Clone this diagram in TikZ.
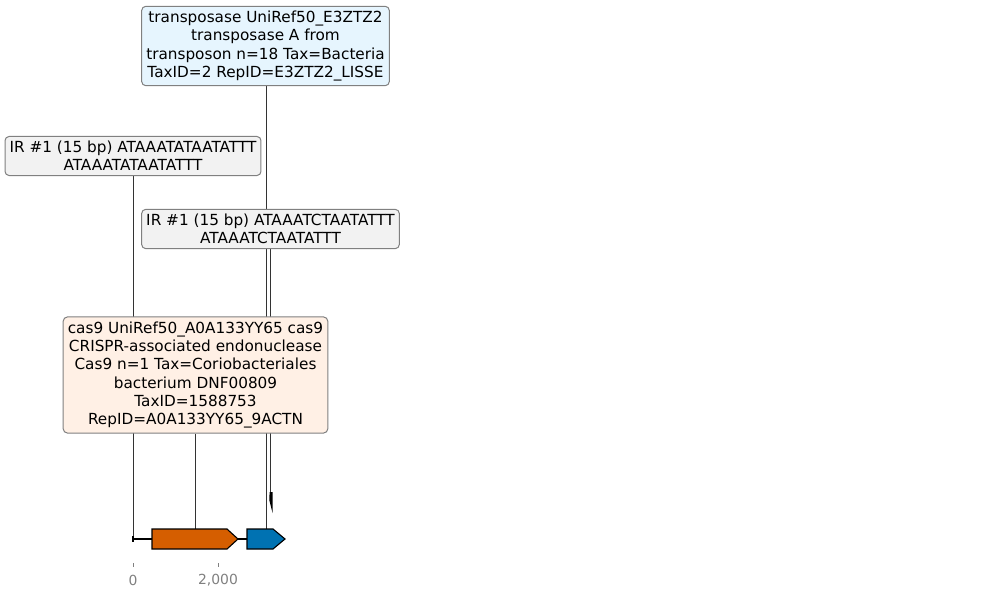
\documentclass[tikz,border=0pt]{standalone}
\usepackage{fontspec}
\setmainfont{DejaVu Sans}
\usetikzlibrary{backgrounds}
\definecolor{casorange}{HTML}{D55E00}
\definecolor{tnpblue}{HTML}{0072B2}
\definecolor{casfill}{HTML}{FFF0E5}
\definecolor{tnpfill}{HTML}{E6F5FE}
\definecolor{irfill}{HTML}{F2F2F2}
\tikzset{
  annot/.style={draw=black!50, line width=0.72pt, rounded corners=3pt, align=center, inner xsep=3.3pt, inner ysep=3.3pt,
    font=\fontsize{11}{13.2}\selectfont},
  leader/.style={black!80, line width=0.55pt},
  gene/.style={draw=black, line width=0.8pt},
  ticklab/.style={text=black!50, font=\fontsize{10}{12}\selectfont}
}
\begin{document}
\begin{tikzpicture}[x=0.72pt,y=-0.72pt]
\useasboundingbox (0,0) rectangle (989,598);
\node[annot,fill=tnpfill] (tnpbox) at (265.5,46) {transposase UniRef50\_E3ZTZ2\\transposase A from\\transposon n=18 Tax=Bacteria\\TaxID=2 RepID=E3ZTZ2\_LISSE};
\node[annot,fill=irfill] (irlbox) at (133,156) {IR \#1 (15 bp) ATAAATATAATATTT\\ATAAATATAATATTT};
\node[annot,fill=irfill] (irrbox) at (270.5,229) {IR \#1 (15 bp) ATAAATCTAATATTT\\ATAAATCTAATATTT};
\node[annot,fill=casfill] (casbox) at (195.5,375) {cas9 UniRef50\_A0A133YY65 cas9\\CRISPR-associated endonuclease\\Cas9 n=1 Tax=Coriobacteriales\\bacterium DNF00809\\TaxID=1588753\\RepID=A0A133YY65\_9ACTN};
\coordinate (irl) at (133,539);
\coordinate (cas) at (195,529);
\coordinate (tnp) at (266,529);
\coordinate (irr) at (270,492);
\begin{scope}[on background layer]
\draw[leader] (irlbox.south) -- (irl);
\draw[leader] (casbox.south -| cas) -- (cas);
\draw[leader] (tnpbox.south -| tnp) -- (tnp);
\draw[leader] (irrbox.south -| irr) -- (irr);
\end{scope}
\draw[line width=1.6pt] (133,539) -- (280,539);
\draw[line width=0.8pt] (133,536) -- (133,542);
\draw[gene,fill=casorange] (152,529) -- (227,529) -- (238,539) -- (227,549) -- (152,549) -- cycle;
\draw[gene,fill=tnpblue] (247,529) -- (273,529) -- (285,539) -- (273,549) -- (247,549) -- cycle;
\fill (269.6,492) -- (272.6,492) -- (272.6,513) -- (271,507) -- (269.3,500) -- cycle;
\draw[black!50,line width=0.6pt] (133,563) -- (133,567);
\draw[black!50,line width=0.6pt] (218,563) -- (218,567);
\node[ticklab] (t0) at (133,580) {0};
\node[ticklab] (t2k) at (218,580) {2,000};
\end{tikzpicture}
\end{document}
